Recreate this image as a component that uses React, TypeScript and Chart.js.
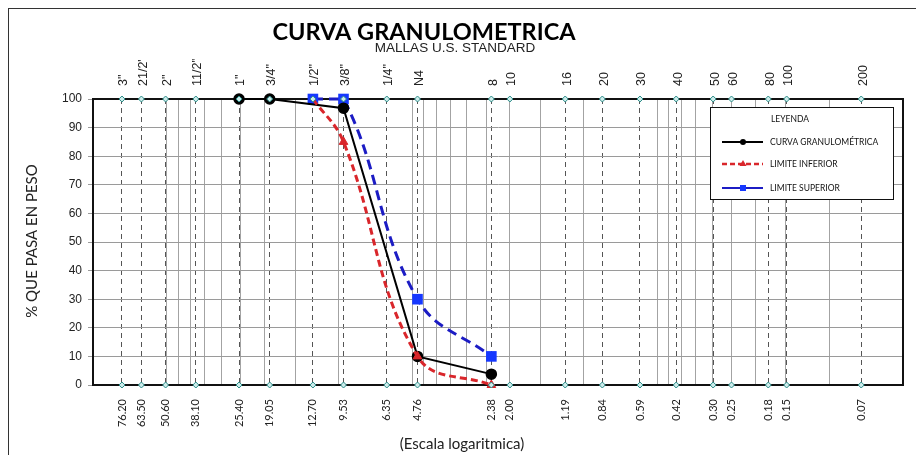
import React, { useEffect, useRef } from "react";
import { Chart, registerables } from "chart.js";

Chart.register(...registerables);

// Sieve openings (mm), from coarse to fine
const sieveMm = [76.2, 63.5, 50.6, 38.1, 25.4, 19.05, 12.7, 9.53, 6.35, 4.76, 2.38, 2.0, 1.19, 0.84, 0.59, 0.42, 0.297, 0.25, 0.177, 0.149, 0.074];
const bottomLabels = ["76.20", "63.50", "50.60", "38.10", "25.40", "19.05", "12.70", "9.53", "6.35", "4.76", "2.38", "2.00", "1.19", "0.84", "0.59", "0.42", "0.30", "0.25", "0.18", "0.15", "0.07"];
const topLabels = ['3"', '21/2"', '2"', '11/2"', '1"', '3/4"', '1/2"', '3/8"', '1/4"', "N4", "8", "10", "16", "20", "30", "40", "50", "60", "80", "100", "200"];

// Minor log grid values
const logGrid = [50, 45, 40, 35, 30, 25, 20, 15, 10, 5, 4.5, 4, 3.5, 3, 2.5, 2, 1.5, 1, 0.5, 0.45, 0.4, 0.35, 0.3, 0.25, 0.2, 0.15, 0.1];

// Curva granulométrica
const curveSizes = [25.4, 19.05, 9.53, 4.76, 2.38];
const curveValues = [100, 100, 96.8, 10, 3.8];
// Límite inferior
const lowerSizes = [12.7, 9.53, 4.76, 2.38];
const lowerValues = [100, 85, 10, 0];
const lowerMarkerRadius = [0, 5, 5, 5];
// Límite superior
const upperSizes = [12.7, 9.53, 4.76, 2.38];
const upperValues = [100, 100, 30, 10];

const TITLE = "CURVA GRANULOMETRICA";
const SUBTITLE = "MALLAS U.S. STANDARD";
const X_TITLE = "(Escala logaritmica)";
const Y_TITLE = "% QUE PASA EN PESO";
const LEGEND_TITLE = "LEYENDA";
const seriesNames = ["CURVA GRANULOMÉTRICA", "LIMITE INFERIOR", "LIMITE SUPERIOR"];

const BLACK = "#000000";
const RED = "#d9262b";
const BLUE_LINE = "#1c1cc4";
const BLUE_MARK = "#1638ff";
const TEAL = "#2b8c88";

const decorPlugin = {
  id: "decor",
  afterDraw(chart: any) {
    const { ctx, chartArea: a } = chart;
    ctx.save();
    ctx.fillStyle = "#000";
    ctx.textAlign = "center";
    ctx.textBaseline = "alphabetic";
    ctx.font = "bold 23.5px Lato";
    ctx.fillText(TITLE, 415, 31);
    ctx.fillStyle = "#222";
    ctx.font = '13.5px "Liberation Sans"';
    ctx.fillText(SUBTITLE, 446, 43);
    ctx.font = "15px Lato";
    ctx.fillText(X_TITLE, 453, 440);
    ctx.save();
    ctx.translate(28, 232);
    ctx.rotate(-Math.PI / 2);
    ctx.fillText(Y_TITLE, 0, 0);
    ctx.restore();

    // Legend box
    const bx = a.right - 193;
    const by = a.top + 8;
    const bw = 183;
    const bh = 92;
    ctx.fillStyle = "#fff";
    ctx.fillRect(bx, by, bw, bh);
    ctx.strokeStyle = "#111";
    ctx.lineWidth = 1;
    ctx.strokeRect(bx + 0.5, by + 0.5, bw, bh);
    ctx.fillStyle = "#111";
    ctx.font = "8.5px Lato";
    ctx.textAlign = "center";
    ctx.textBaseline = "middle";
    ctx.fillText(LEGEND_TITLE, bx + 80, by + 12);

    const lx1 = bx + 12;
    const lx2 = bx + 53;
    const mx = bx + 33;
    const rows = [by + 35, by + 57, by + 81];
    // black
    ctx.setLineDash([]);
    ctx.strokeStyle = BLACK;
    ctx.lineWidth = 2;
    ctx.beginPath();
    ctx.moveTo(lx1, rows[0]);
    ctx.lineTo(lx2, rows[0]);
    ctx.stroke();
    ctx.fillStyle = BLACK;
    ctx.beginPath();
    ctx.arc(mx, rows[0], 3, 0, Math.PI * 2);
    ctx.fill();
    // red
    ctx.strokeStyle = RED;
    ctx.lineWidth = 2.5;
    ctx.setLineDash([5, 3]);
    ctx.beginPath();
    ctx.moveTo(lx1, rows[1]);
    ctx.lineTo(lx2, rows[1]);
    ctx.stroke();
    ctx.setLineDash([]);
    ctx.fillStyle = RED;
    ctx.beginPath();
    ctx.moveTo(mx, rows[1] - 4);
    ctx.lineTo(mx + 3.5, rows[1] + 2);
    ctx.lineTo(mx - 3.5, rows[1] + 2);
    ctx.closePath();
    ctx.fill();
    // blue
    ctx.strokeStyle = BLUE_LINE;
    ctx.lineWidth = 2;
    ctx.beginPath();
    ctx.moveTo(lx1, rows[2]);
    ctx.lineTo(lx2, rows[2]);
    ctx.stroke();
    ctx.fillStyle = BLUE_MARK;
    ctx.fillRect(mx - 3, rows[2] - 3, 6, 6);

    ctx.fillStyle = "#111";
    ctx.textAlign = "left";
    ctx.font = "8.5px Lato";
    seriesNames.forEach((n, i) => ctx.fillText(n, bx + 60, rows[i]));
    ctx.restore();
  },
};

const logAxisBase = {
  type: "logarithmic" as const,
  reverse: true,
  min: 0.05,
  max: 100,
};

export default function App() {
  const ref = useRef<HTMLCanvasElement | null>(null);

  useEffect(() => {
    if (!ref.current) return;
    const pts = (xs: number[], ys: number[]) => xs.map((x, i) => ({ x, y: ys[i] }));
    const markStyle = {
      showLine: false,
      pointStyle: "rectRot",
      pointRadius: 3,
      pointBorderWidth: 1,
      pointBorderColor: TEAL,
      pointBackgroundColor: "#cdeceb",
      xAxisID: "x",
      yAxisID: "y",
      clip: false,
    };
    const chart = new Chart(ref.current, {
      type: "line",
      data: {
        datasets: [
          { label: "marks100", data: sieveMm.map((x) => ({ x, y: 100 })), ...markStyle } as any,
          { label: "marks0", data: sieveMm.map((x) => ({ x, y: 0 })), ...markStyle },
          {
            label: seriesNames[1],
            data: pts(lowerSizes, lowerValues),
            borderColor: RED,
            borderWidth: 3,
            borderDash: [7, 4],
            tension: 0.4,
            pointStyle: "triangle",
            pointRadius: lowerMarkerRadius,
            pointBackgroundColor: RED,
            pointBorderColor: RED,
            pointBorderWidth: 1,
            xAxisID: "x",
            yAxisID: "y",
            clip: false,
          },
          {
            label: seriesNames[0],
            data: pts(curveSizes, curveValues),
            borderColor: BLACK,
            borderWidth: 2,
            tension: 0,
            pointStyle: "circle",
            pointRadius: 5,
            pointBackgroundColor: BLACK,
            pointBorderColor: BLACK,
            pointBorderWidth: 1.5,
            xAxisID: "x",
            yAxisID: "y",
            clip: false,
          },
          {
            label: seriesNames[2],
            data: pts(upperSizes, upperValues),
            borderColor: BLUE_LINE,
            borderWidth: 3,
            borderDash: [10, 6],
            tension: 0.4,
            pointStyle: "rect",
            pointRadius: 7.5,
            pointBackgroundColor: BLUE_MARK,
            pointBorderColor: BLUE_MARK,
            pointBorderWidth: 0,
            xAxisID: "x",
            yAxisID: "y",
            clip: false,
          },
        ],
      },
      options: {
        animation: false,
        responsive: true,
        maintainAspectRatio: false,
        layout: { padding: { top: 50, right: 21, bottom: 0, left: 0 } },
        plugins: {
          legend: { display: false },
          tooltip: { enabled: false },
          title: { display: false },
        },
        scales: {
          x: {
            ...logAxisBase,
            position: "bottom",
            afterBuildTicks: (s: any) => {
              s.ticks = sieveMm.map((v) => ({ value: v }));
            },
            afterFit: (s: any) => {
              s.height = 70;
            },
            ticks: {
              autoSkip: false,
              minRotation: 90,
              maxRotation: 90,
              padding: 14,
              color: "#222",
              font: { family: "Lato", size: 11 },
              callback: (_v: any, i: number) => bottomLabels[i],
            },
            grid: { color: "#555", lineWidth: 1, drawTicks: false },
            border: { color: "#111", width: 2, dash: [5, 4] },
          },
          x2: {
            ...logAxisBase,
            position: "top",
            afterBuildTicks: (s: any) => {
              s.ticks = sieveMm.map((v) => ({ value: v }));
            },
            afterFit: (s: any) => {
              s.height = 40;
            },
            ticks: {
              autoSkip: false,
              minRotation: 90,
              maxRotation: 90,
              padding: 13,
              labelOffset: 17,
              color: "#222",
              font: { family: "Liberation Sans", size: 12.5 },
              callback: (_v: any, i: number) => topLabels[i],
            },
            grid: { display: false, drawTicks: false },
            border: { color: "#111", width: 2 },
          },
          xg: {
            ...logAxisBase,
            position: "bottom",
            afterBuildTicks: (s: any) => {
              s.ticks = logGrid.map((v) => ({ value: v }));
            },
            afterFit: (s: any) => {
              s.height = 0;
            },
            ticks: { display: false },
            grid: { color: "#a3a3a3", lineWidth: 1, drawTicks: false },
            border: { display: false },
          },
          y: {
            min: 0,
            max: 100,
            position: "left",
            afterFit: (s: any) => {
              s.width = 84;
            },
            ticks: {
              stepSize: 10,
              padding: 6,
              color: "#222",
              font: { family: "Liberation Sans", size: 12 },
            },
            grid: { color: "#9a9a9a", lineWidth: 1, tickLength: 5 },
            border: { color: "#111", width: 2 },
          },
          yr: {
            min: 0,
            max: 100,
            position: "right",
            afterFit: (s: any) => {
              s.width = 0;
            },
            ticks: { display: false },
            grid: { display: false, drawTicks: false },
            border: { color: "#111", width: 2 },
          },
        },
      } as any,
      plugins: [decorPlugin],
    });
    return () => chart.destroy();
  }, []);

  return (
    <div
      style={{
        width: 915,
        height: 446,
        borderLeft: "1px solid #333",
        borderTop: "1px solid #333",
        background: "#fff",
      }}
    >
      <canvas ref={ref} />
    </div>
  );
}
